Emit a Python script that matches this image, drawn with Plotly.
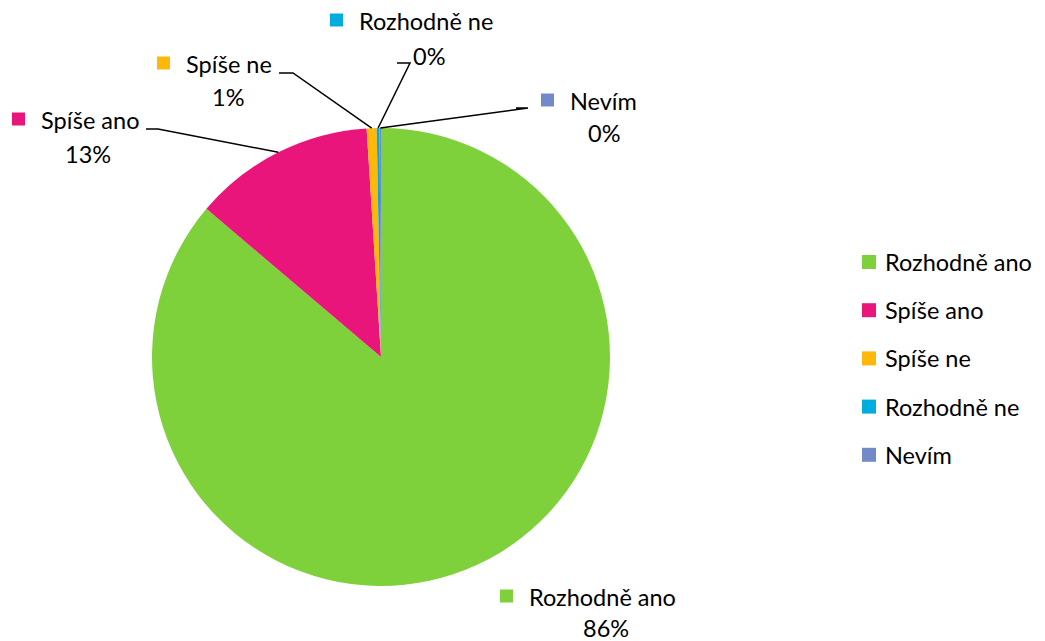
import math
import plotly.graph_objects as go

# ---- data ----
labels = ["Rozhodně ano", "Spíše ano", "Spíše ne", "Rozhodně ne", "Nevím"]
values = [86.2, 12.8, 0.7, 0.2, 0.1]
colors = ["#7FD13B", "#EA157A", "#FEB80A", "#00ADDC", "#738AC8"]

# ---- layout (pixels) ----
W, H = 1045, 641
CX, CY, R = 381, 357, 229
FONT = "Lato"
FS = 23.5

# data-label placement: (square left x, text line y, percent centre x, percent y, elbow points or None)
label_pos = [
    (500, 597, 606, 628, None),
    (12, 120, 88, 154, [(146, 129), (158, 129)]),
    (157, 64, 228, 97, [(279, 73), (293, 73)]),
    (330, 21, 429, 56, [(397, 63), (410, 63)]),
    (541, 101, 604, 133, [(516, 108), (528, 108)]),
]
legend_x, legend_y0, legend_dy = 862, 262, 48.2

total = sum(values)
pcts = [f"{round(v / total * 100):.0f}%" for v in values]

fig = go.Figure()
fig.add_trace(go.Pie(
    labels=labels, values=values, sort=False, direction="clockwise", rotation=0,
    marker=dict(colors=colors, line=dict(width=0)), textinfo="none",
    showlegend=False, hoverinfo="label+percent",
    domain=dict(x=[(CX - R) / W, (CX + R) / W], y=[(H - CY - R) / H, (H - CY + R) / H]),
))
fig.add_trace(go.Scatter(x=[None], y=[None], showlegend=False, hoverinfo="skip"))

shapes = []
annotations = []
SQ = 13

cum = 0.0
for i, (lab, v, col, pct) in enumerate(zip(labels, values, colors, pcts)):
    mid = (cum + v / 2) / total * 2 * math.pi
    cum += v
    ex, ey = CX + R * math.sin(mid), CY - R * math.cos(mid)
    sx, ty, px, py, elbow = label_pos[i]
    shapes.append(dict(type="rect", xref="x", yref="y", x0=sx, x1=sx + SQ,
                       y0=ty - SQ / 2 - 1, y1=ty + SQ / 2 - 1, fillcolor=col, line=dict(width=0)))
    annotations.append(dict(xref="x", yref="y", x=sx + SQ + 14, y=ty, text=lab, showarrow=False,
                            xanchor="left", yanchor="middle", font=dict(family=FONT, size=FS, color="#000")))
    annotations.append(dict(xref="x", yref="y", x=px, y=py, text=pct, showarrow=False,
                            xanchor="center", yanchor="middle", font=dict(family=FONT, size=FS, color="#000")))
    if elbow:
        pts = elbow + [(ex, ey)]
        path = "M " + " L ".join(f"{x:.1f},{y:.1f}" for x, y in pts)
        shapes.append(dict(type="path", xref="x", yref="y", path=path, line=dict(color="#000", width=1.5)))

    # legend
    ly = legend_y0 + i * legend_dy
    shapes.append(dict(type="rect", xref="x", yref="y", x0=legend_x, x1=legend_x + 14,
                       y0=ly - 7, y1=ly + 7, fillcolor=col, line=dict(width=0)))
    annotations.append(dict(xref="x", yref="y", x=legend_x + 21, y=ly, text=lab, showarrow=False,
                            xanchor="left", yanchor="middle", font=dict(family=FONT, size=FS, color="#000")))

fig.update_layout(
    width=W, height=H, margin=dict(l=0, r=0, t=0, b=0),
    paper_bgcolor="white", plot_bgcolor="rgba(0,0,0,0)",
    xaxis=dict(range=[0, W], visible=False, fixedrange=True),
    yaxis=dict(range=[H, 0], visible=False, fixedrange=True),
    shapes=shapes, annotations=annotations, showlegend=False,
)
fig.write_html("out.html")
